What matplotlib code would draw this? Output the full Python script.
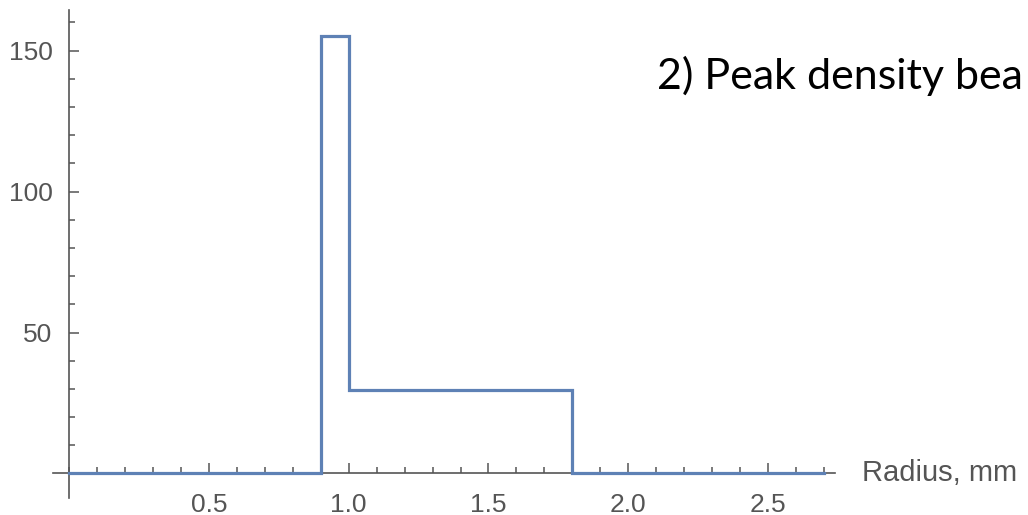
import numpy as np
import matplotlib.pyplot as plt
from matplotlib.ticker import MultipleLocator

# piecewise-constant radial density profile
edges = [0.0, 0.9, 1.0, 1.8, 2.7]
density = [0.0, 155.0, 29.5, 0.0]

x_major = [0.5, 1.0, 1.5, 2.0, 2.5]
x_labels = ["0.5", "1.0", "1.5", "2.0", "2.5"]
y_major = [50, 100, 150]
y_labels = ["50", "100", "150"]

line_col = "#5E81B5"
axis_col = "#555555"

fig = plt.figure(figsize=(10.28, 5.15), dpi=100)
ax = fig.add_axes([0.0516, 0.033, 0.7607, 0.9476])

# step outline of the profile
xs = [edges[0]]
ys = [density[0]]
for i, d in enumerate(density):
    xs += [edges[i], edges[i + 1]]
    ys += [d, d]
ax.plot(xs, ys, color=line_col, lw=2.3, solid_joinstyle="miter", zorder=3,
        clip_on=False)

ax.set_xlim(-0.058, 2.74)
ax.set_ylim(-8.7, 164.4)

for side in ("top", "right"):
    ax.spines[side].set_visible(False)
for side in ("left", "bottom"):
    ax.spines[side].set_position(("data", 0))
    ax.spines[side].set_color(axis_col)
    ax.spines[side].set_linewidth(1.2)

ax.set_xticks(x_major)
ax.set_xticklabels(x_labels)
ax.set_yticks(y_major)
ax.set_yticklabels(y_labels)
ax.xaxis.set_minor_locator(MultipleLocator(0.1))
ax.yaxis.set_minor_locator(MultipleLocator(10))

ax.tick_params(which="both", direction="in", color=axis_col, width=1.1,
               labelcolor=axis_col, labelsize=19)
ax.tick_params(which="major", length=7)
ax.tick_params(which="minor", length=4)
ax.tick_params(axis="x", which="major", pad=14)
ax.tick_params(axis="y", which="major", pad=12)
for lab in ax.get_xticklabels() + ax.get_yticklabels():
    lab.set_fontfamily("Liberation Sans")

fig.text(862 / 1028, 1 - 473 / 515, "Radius, mm", color=axis_col,
         fontsize=21, family="Liberation Sans", ha="left", va="center")

fig.text(657 / 1028, 1 - 76 / 515, "2) Peak density bea", color="black",
         fontsize=31, family="Lato", ha="left", va="center")

fig.savefig("out.png", dpi=100, facecolor="white")
